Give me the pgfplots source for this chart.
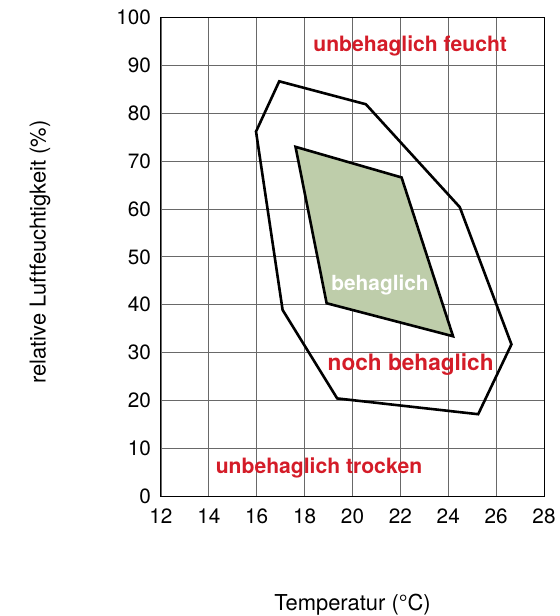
\documentclass[border=0pt]{standalone}
\usepackage{pgfplots}
\pgfplotsset{compat=1.18}
\usepackage{fontspec}
\setmainfont{TeX Gyre Heros}
\definecolor{gridgray}{RGB}{105,105,105}
\definecolor{lblred}{RGB}{212,28,40}
\definecolor{sage}{RGB}{190,205,170}
\begin{document}
\begin{tikzpicture}
\begin{axis}[
 scale only axis, width=383bp, height=478.3bp,
 xmin=12,xmax=28,ymin=0,ymax=100,
 xtick={12,14,...,28}, ytick={0,10,...,100},
 grid=major, major grid style={gridgray, line width=0.9bp},
 axis line style={black, line width=1bp},
 major tick length=0pt,
 tick label style={font=\fontsize{20.8}{22}\selectfont},
 /pgf/number format/assume math mode=true,
 xticklabel style={yshift=-9bp},
 yticklabel style={xshift=-6.5bp},
 xlabel={Temperatur (°C)}, ylabel={relative Luftfeuchtigkeit (\%)},
 label style={font=\fontsize{22}{24}\selectfont},
 xlabel style={at={(axis description cs:0.5,-0.2275)},anchor=center},
 ylabel style={at={(axis description cs:-0.316,0.51)},anchor=center},
 clip=false,
]
\addplot[draw=black, line width=2.6bp, line join=miter] coordinates {
 (15.97,76.2) (16.94,86.7) (20.56,81.9) (24.48,60.4) (26.64,31.7) (25.25,17.1) (19.36,20.4) (17.08,38.9)} -- cycle;
\addplot[fill=sage, draw=black, line width=2.6bp, line join=miter] coordinates {
 (17.62,73.0) (22.05,66.6) (24.2,33.4) (18.92,40.3)} -- cycle;
\node[font=\bfseries\fontsize{21.2}{22}\selectfont, text=lblred] at (axis cs:22.41,94) {unbehaglich feucht};
\node[font=\bfseries\fontsize{21.2}{22}\selectfont, text=lblred] at (axis cs:18.6,5.9) {unbehaglich trocken};
\node[font=\bfseries\fontsize{22.7}{24}\selectfont, text=lblred] at (axis cs:22.43,27.4) {noch behaglich};
\node[font=\bfseries\fontsize{20.9}{22}\selectfont, text=white] at (axis cs:21.15,44.2) {behaglich};
\end{axis}
\pgfresetboundingbox
\useasboundingbox (-161bp,-120bp) rectangle (399bp,496bp);
\end{tikzpicture}
\end{document}
